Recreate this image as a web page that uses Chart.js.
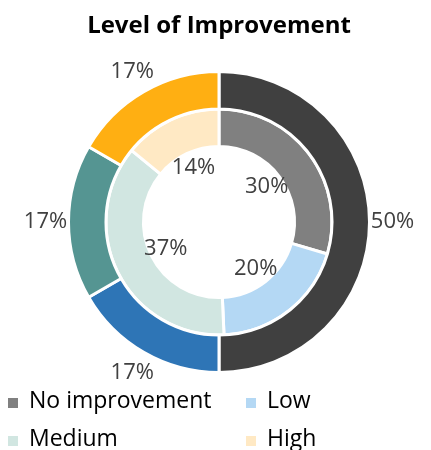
<!DOCTYPE html>
<html lang="en">
<head>
    <meta charset="UTF-8">
    <title>Level of Improvement</title>
    <script src="https://cdn.jsdelivr.net/npm/chart.js"></script>
    <style>
        html, body { margin: 0; padding: 0; background: #fff; }
        #wrap { width: 431px; height: 450px; }
    </style>
</head>
<body>
    <div id="wrap"><canvas id="donut" width="431" height="450"></canvas></div>

    <script>
        // categories + values
        const levels = ['No improvement', 'Low', 'Medium', 'High'];
        const outerValues = [3, 1, 1, 1];        // 50%, 17%, 17%, 17%
        const innerValues = [21, 14, 26, 10];    // 30%, 20%, 37%, 14%
        const outerColors = ['#404040', '#2E75B6', '#559592', '#FFAF12'];
        const innerColors = ['#808080', '#B4D8F4', '#D1E6E1', '#FFE9C4'];

        const FONT = '"Open Sans", Lato, sans-serif';

        function pct(values, i) {
            const total = values.reduce((a, b) => a + b, 0);
            return Math.round(values[i] / total * 100) + '%';
        }

        // percent labels: outer ring outside, inner ring just inside the hole
        const sliceLabels = {
            id: 'sliceLabels',
            afterDatasetsDraw(chart) {
                const ctx = chart.ctx;
                ctx.save();
                ctx.font = '22px ' + FONT;
                ctx.fillStyle = '#404040';
                ctx.textAlign = 'center';
                ctx.textBaseline = 'middle';
                chart.data.datasets.forEach((ds, di) => {
                    const meta = chart.getDatasetMeta(di);
                    meta.data.forEach((arc, i) => {
                        const p = arc.getProps(['x', 'y', 'startAngle', 'endAngle', 'innerRadius', 'outerRadius'], true);
                        const mid = (p.startAngle + p.endAngle) / 2;
                        const r = di === 0 ? p.outerRadius + 23 : p.innerRadius - 16;
                        ctx.fillText(pct(ds.data, i), p.x + Math.cos(mid) * r, p.y + Math.sin(mid) * r);
                    });
                });
                ctx.restore();
            }
        };

        // two column legend at the bottom
        const gridLegend = {
            id: 'gridLegend',
            afterDraw(chart) {
                const ctx = chart.ctx;
                const ds = chart.data.datasets[1];
                const colX = [8, 246];
                const rowY = [408, 446];
                ctx.save();
                ctx.font = '23px ' + FONT;
                ctx.textBaseline = 'alphabetic';
                ctx.textAlign = 'left';
                chart.data.labels.forEach((lab, i) => {
                    const x = colX[i % 2];
                    const y = rowY[Math.floor(i / 2)];
                    ctx.fillStyle = ds.backgroundColor[i];
                    ctx.fillRect(x, y - 10, 10, 10);
                    ctx.fillStyle = '#000';
                    ctx.fillText(lab, x + 21, y);
                });
                ctx.restore();
            }
        };

        const chart = new Chart(document.getElementById('donut'), {
            type: 'doughnut',
            data: {
                labels: levels,
                datasets: [{
                    label: 'Outer',
                    data: outerValues,
                    backgroundColor: outerColors,
                    borderColor: '#fff',
                    borderWidth: 3,
                    hoverOffset: 0,
                    hoverBorderWidth: 3
                }, {
                    label: 'Level of Improvement',
                    data: innerValues,
                    backgroundColor: innerColors,
                    borderColor: '#fff',
                    borderWidth: 3,
                    hoverOffset: 0,
                    hoverBorderWidth: 3
                }]
            },
            options: {
                responsive: false,
                animation: false,
                cutout: '50.2%',
                layout: { padding: { left: 7, right: 0, top: 0, bottom: 76 } },
                plugins: {
                    legend: { display: false },
                    tooltip: { enabled: false },
                    title: {
                        display: true,
                        text: 'Level of Improvement',
                        color: '#000',
                        font: { family: FONT, size: 24, weight: 'bold' },
                        padding: { top: 12, bottom: 29.2 }
                    }
                }
            },
            plugins: [sliceLabels, gridLegend]
        });
    </script>
</body>
</html>
